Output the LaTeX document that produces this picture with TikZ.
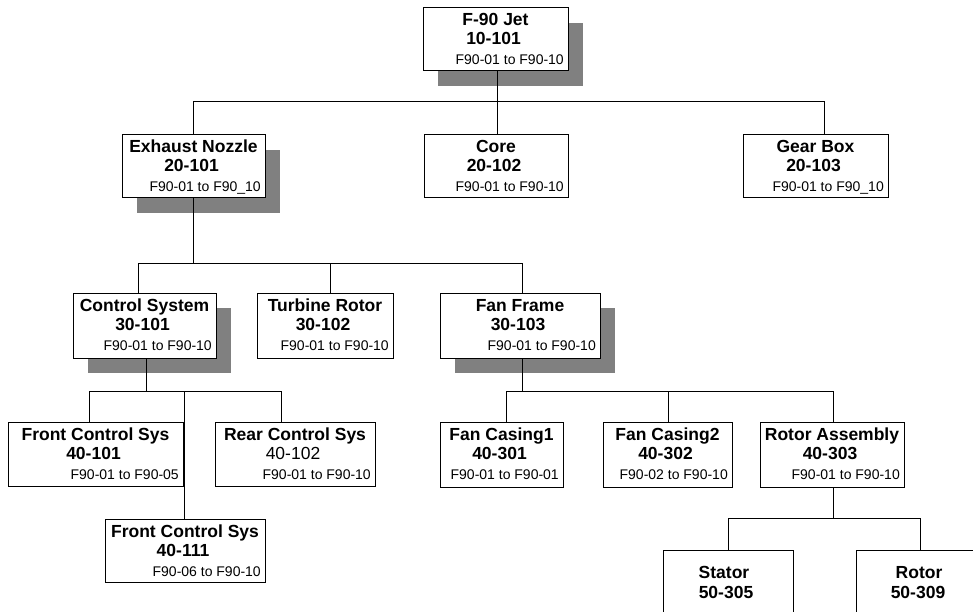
\documentclass[tikz,border=0pt]{standalone}
\usepackage{fontspec}
\setmainfont{Liberation Sans}
\definecolor{shadowgray}{HTML}{808080}
\tikzset{
  orgbox/.style={draw=black, fill=white, line width=1bp, inner sep=0pt, rectangle},
  ttl/.style={font=\fontsize{17.5bp}{20bp}\selectfont\bfseries, anchor=base, inner sep=0pt},
  rng/.style={font=\fontsize{14bp}{16bp}\selectfont, anchor=base east, inner sep=0pt},
  link/.style={line width=1bp, draw=black}
}
% #1 name, #2 left, #3 top, #4 right, #5 bottom, #6 title, #7 number, #8 range, #9 shadow
\newcommand\obox[9]{%
  \ifnum#9=1 \fill[shadowgray] ({#2+15},{#3+15}) rectangle ({#4+15},{#5+15});\fi
  \node[orgbox, minimum width={(#4-#2)*1bp}, minimum height={(#5-#3)*1bp}] (#1) at ({(#2+#4)/2},{(#3+#5)/2}) {};
  \node[ttl] (#1-t) at ({(#2+#4)/2},{#3+18}) {#6};
  \node[ttl] (#1-n) at ({(#2+#4)/2-2},{#3+37}) {#7};
  \node[rng] (#1-r) at ({#4-4},{#3+57}) {#8};
}
\begin{document}
\begin{tikzpicture}[x=1bp, y=-1bp]
\useasboundingbox (0,0) rectangle (973,612);
\clip (0,0) rectangle (973,612);
\fill[white] (0,0) rectangle (973,612);

\obox{jet}{423}{8}{568}{71}{F-90 Jet}{10-101}{F90-01 to F90-10}{1}
\obox{exh}{122}{135}{265}{198}{Exhaust Nozzle}{20-101}{F90-01 to F90\_10}{1}
\obox{core}{424}{135}{568}{198}{Core}{20-102}{F90-01 to F90-10}{0}
\obox{gear}{743}{135}{888}{198}{Gear Box}{20-103}{F90-01 to F90\_10}{0}
\obox{ctrl}{73}{293}{216}{358}{Control System}{30-101}{F90-01 to F90-10}{1}
\obox{turb}{257}{293}{393}{358}{Turbine Rotor}{30-102}{F90-01 to F90-10}{0}
\obox{fan}{440}{293}{600}{358}{Fan Frame}{30-103}{F90-01 to F90-10}{1}
\obox{fcsa}{8}{422}{183}{486}{Front Control Sys}{40-101}{F90-01 to F90-05}{0}
\obox{rcs}{215}{422}{375}{486}{Rear Control Sys}{\mdseries 40-102}{F90-01 to F90-10}{0}
\obox{fcsb}{105}{519}{265}{582}{Front Control Sys}{40-111}{F90-06 to F90-10}{0}
\obox{fca}{440}{422}{563}{487}{Fan Casing1}{40-301}{F90-01 to F90-01}{0}
\obox{fcb}{603}{422}{732}{487}{Fan Casing2}{40-302}{F90-02 to F90-10}{0}
\obox{ra}{760}{422}{904}{487}{Rotor Assembly}{40-303}{F90-01 to F90-10}{0}

% Stator and Rotor (cut off at bottom edge)
\node[orgbox, minimum width=130bp, minimum height=90bp] (stator) at (728,595) {};
\node[ttl] (stator-t) at (724,578) {Stator};
\node[ttl] (stator-n) at (726,598) {50-305};
\node[orgbox, minimum width=130bp, minimum height=90bp] (rotor) at (921,595) {};
\node[ttl] (rotor-t) at (919,578) {Rotor};
\node[ttl] (rotor-n) at (918,598) {50-309};

% connectors
\draw[link] (jet.south -| 497,0) -- (497,102);
\draw[link] (exh.north -| 193,0) -- (193,102) -- (824,102) -- (gear.north -| 824,0);
\draw[link] (core.north -| 497,0) -- (497,102);

\draw[link] (exh.south -| 193,0) -- (193,263);
\draw[link] (ctrl.north -| 138,0) -- (138,263) -- (522,263) -- (fan.north -| 522,0);
\draw[link] (turb.north -| 330,0) -- (330,263);

\draw[link] (ctrl.south -| 146,0) -- (146,391);
\draw[link] (fcsa.north -| 89,0) -- (89,391) -- (281,391) -- (rcs.north -| 281,0);
\draw[link] (fcsb.north -| 184,0) -- (184,391);

\draw[link] (fan.south -| 522,0) -- (522,391);
\draw[link] (fca.north -| 506,0) -- (506,391) -- (833,391) -- (ra.north -| 833,0);
\draw[link] (fcb.north -| 668,0) -- (668,391);

\draw[link] (ra.south -| 833,0) -- (833,518);
\draw[link] (stator.north -| 728,0) -- (728,518) -- (920,518) -- (rotor.north -| 920,0);
\end{tikzpicture}
\end{document}
